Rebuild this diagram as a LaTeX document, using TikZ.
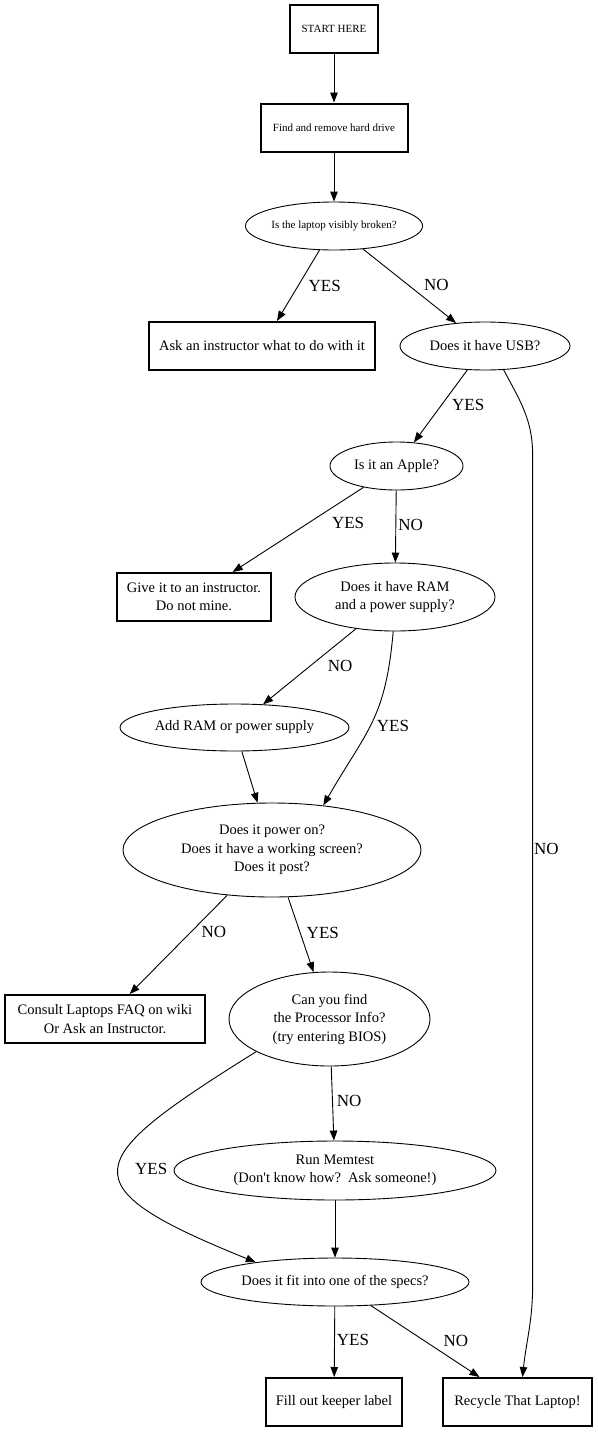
\documentclass[tikz,border=0pt]{standalone}
\usepackage{fontspec}
\setmainfont{Liberation Serif}
\usetikzlibrary{shapes.geometric,arrows.meta}

\begin{document}
\begin{tikzpicture}
[x=1pt, y=1pt, node distance=120pt, font=\fontsize{14.5}{18.5}\selectfont]
\tikzstyle{box}=[rectangle, draw, line width=2pt, minimum height=48pt, inner sep=0pt, align=center]
\tikzstyle{oval}=[ellipse, draw, line width=0.9pt, inner sep=0pt, align=center]
\tikzstyle{toptext}=[font=\fontsize{11}{13}\selectfont]
\tikzstyle{edge}=[line width=0.9pt, -{Triangle[length=10pt, width=7.5pt]}]
\tikzstyle{lbl}=[font=\fontsize{17}{20}\selectfont, inner sep=0pt]
\useasboundingbox (0,0) rectangle (597,-1432);

\node[box, toptext]	(Start)		at (334,-29) [minimum width=88pt]	{START HERE};
\node[box, toptext]	(Drive)		[below of=Start, yshift=21.5pt, minimum width=147pt]	{Find and remove hard drive};
\node[oval, toptext]	(Broken)	[below of=Drive, yshift=21.5pt, minimum width=175pt, minimum height=48pt]	{Is the laptop visibly broken?};

\node[box]	(Ask)		[below of=Broken, xshift=-72pt, minimum width=226pt]	{Ask an instructor what to do with it};
\node[oval]	(USB)		[below of=Broken, xshift=151pt, minimum width=170pt, minimum height=48pt]	{Does it have USB?};
\node[oval]	(Apple)		[below of=USB, xshift=-88.5pt, minimum width=133pt, minimum height=48pt]	{Is it an Apple?};
\node[box]	(Give)		[below of=Apple, yshift=-11pt, xshift=-202.5pt, minimum width=154pt]	{Give it to an instructor.\\Do not mine.};
\node[oval]	(RAM)		[below of=Apple, yshift=-11pt, xshift=-1.5pt, minimum width=200pt, minimum height=68pt]	{Does it have RAM\\and a power supply?};
\node[oval]	(Add)		[below of=RAM, yshift=-10.5pt, xshift=-160.5pt, minimum width=229pt, minimum height=47pt]	{Add RAM or power supply};
\node[oval]	(Power)		[below of=Add, yshift=-2.5pt, xshift=37.5pt, minimum width=298pt, minimum height=94pt]	{Does it power on?\\Does it have a working screen?\\Does it post?};
\node[box]	(FAQ)		[below of=Power, yshift=-49pt, xshift=-167pt, minimum width=200pt]	{Consult Laptops FAQ on wiki\\Or Ask an Instructor.};
\node[oval]	(CPU)		[below of=Power, yshift=-49pt, xshift=57.5pt, minimum width=201pt, minimum height=94pt]	{Can you find\\the Processor Info?\\(try entering BIOS)};
\node[oval]	(Memtest)	[below of=CPU, yshift=-31.5pt, xshift=5.5pt, minimum width=322pt, minimum height=59pt]	{Run Memtest\\(Don\textquotesingle t know how?\ \ Ask someone!)};
\node[oval]	(Specs)		[below of=Memtest, yshift=8.5pt, minimum width=268pt, minimum height=48pt]	{Does it fit into one of the specs?};
\node[box]	(Keeper)	[below of=Specs, xshift=-1pt, minimum width=136pt]	{Fill out keeper label};
\node[box]	(Recycle)	[below of=Specs, xshift=182.5pt, minimum width=149pt]	{Recycle That Laptop!};

\draw[edge] (Start)--(Drive);
\draw[edge] (Drive)--(Broken);
\draw[edge] (Broken)-- node[lbl, pos=.5, right=10pt] {YES} (Ask);
\draw[edge] (Broken)-- node[lbl, pos=.48, right=16pt] {NO} (USB);
\draw[edge] (USB)-- node[lbl, pos=.49, right=10.5pt] {YES} (Apple);
\draw[edge] (USB.-52) to[out=-62, in=90] ++(29,-85) -- node[lbl, pos=.475, right=1pt] {NO} ++(0,-830) to[out=-90, in=84] ([xshift=5pt]Recycle.north);
\draw[edge] (Apple)-- node[lbl, pos=.42, right=23pt] {YES} (Give);
\draw[edge] (Apple)-- node[lbl, pos=.48, right=2pt] {NO} (RAM);
\draw[edge] (RAM)-- node[lbl, pos=.49, right=17pt] {NO} (Add);
\draw[edge] (RAM.-93) to[out=-95, in=60, looseness=1.2] node[lbl, pos=.52, right=6pt] {YES} (Power.41);
\draw[edge] (Add)--(Power);
\draw[edge] (Power)-- node[lbl, pos=.37, right=10pt] {NO} (FAQ);
\draw[edge] (Power)-- node[lbl, pos=.48, right=6pt] {YES} (CPU);
\draw[edge] (CPU)-- node[lbl, pos=.47, right=4pt] {NO} (Memtest);
\draw[edge] (CPU.204) to[out=212, in=158, looseness=2.5] node[lbl, pos=.5, right=16pt] {YES} (Specs.166);
\draw[edge] (Memtest)--(Specs);
\draw[edge] (Specs)-- node[lbl, pos=.48, right=2pt] {YES} (Keeper);
\draw[edge] (Specs)-- node[lbl, pos=.49, right=19pt] {NO} (Recycle);
\end{tikzpicture}
\end{document}
